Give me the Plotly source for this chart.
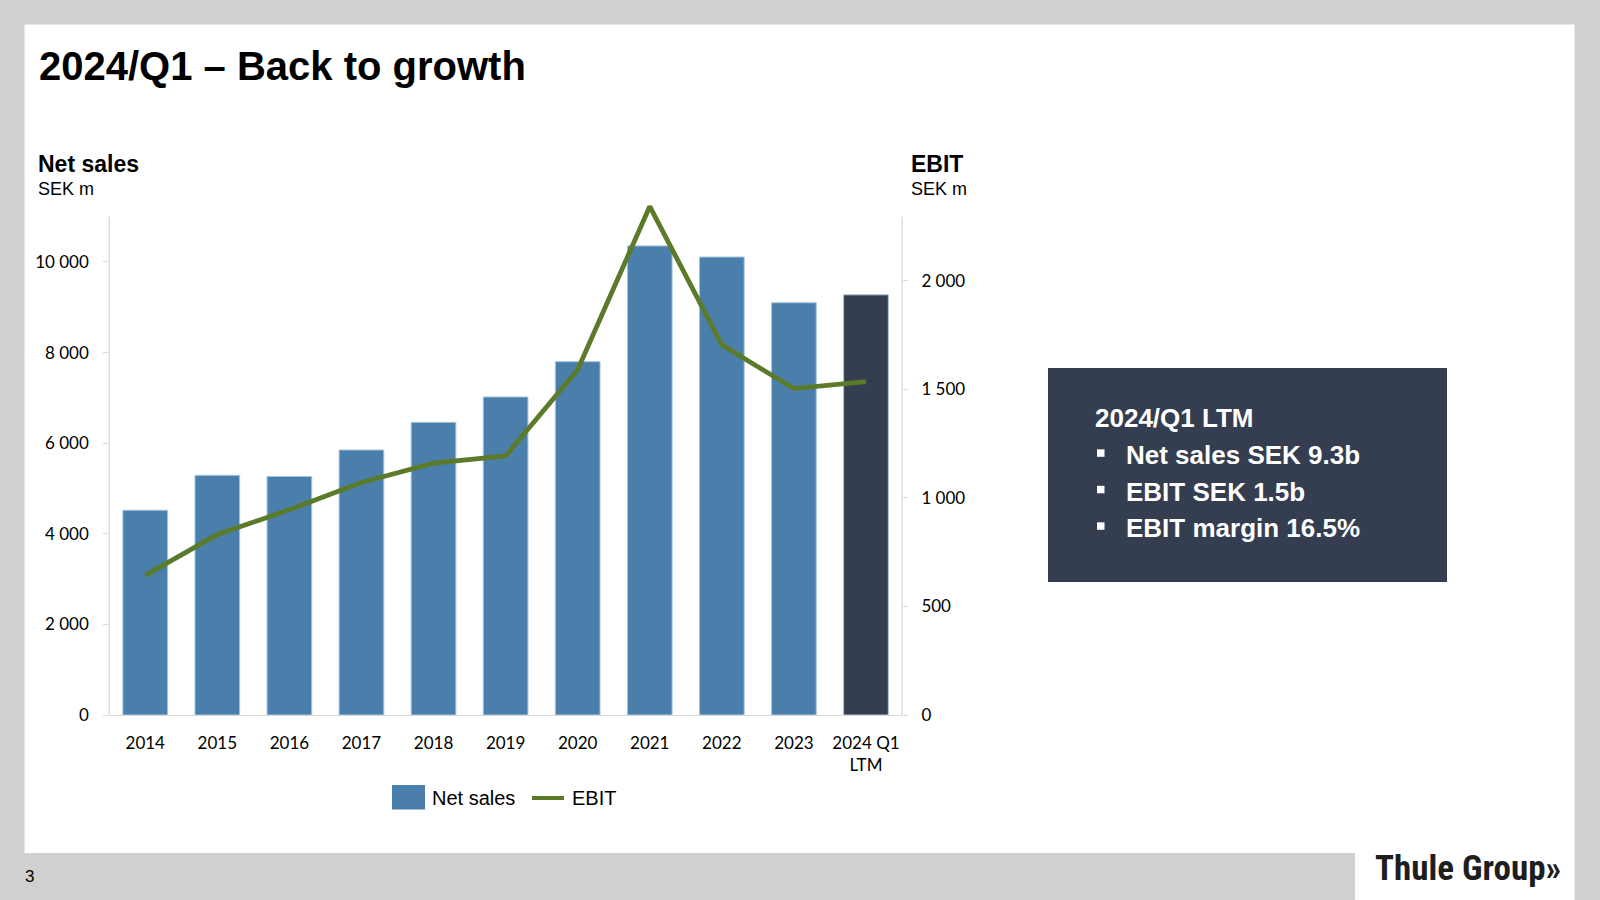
import plotly.graph_objects as go

# ---- data ----
categories = ["2014", "2015", "2016", "2017", "2018", "2019", "2020", "2021", "2022", "2023", "2024 Q1<br>LTM"]
net_sales = [4520, 5290, 5265, 5850, 6460, 7020, 7800, 10355, 10110, 9100, 9275]
ebit = [643, 831, 945, 1071, 1160, 1193, 1590, 2342, 1705, 1503, 1535]
left_ticks = [0, 2000, 4000, 6000, 8000, 10000]
right_ticks = [0, 500, 1000, 1500, 2000]

def fmt(v):
    return f"{v:,}".replace(",", " ")

W, H = 1600, 900
def px(x):
    return x / W
def py(y):
    return 1 - y / H

BLUE = "#4a7fab"
DARK = "#343e50"
GREEN = "#5b7b2a"
AXIS = "#d9d9d9"
GRAYBG = "#d0d0d0"
ARIAL = "Liberation Sans, Arial, sans-serif"
TICKF = "Lato, Carlito, Calibri, sans-serif"

bar_colors = [BLUE] * (len(categories) - 1) + [DARK]

fig = go.Figure()
fig.add_trace(go.Bar(
    x=categories, y=net_sales, name="Net sales",
    marker=dict(color=bar_colors, line=dict(color="#a9c4da", width=1)),
    yaxis="y", showlegend=False, hoverinfo="skip",
))
fig.add_trace(go.Scatter(
    x=categories, y=ebit, name="EBIT", mode="lines",
    line=dict(color=GREEN, width=4.8), yaxis="y2",
    showlegend=False, cliponaxis=False, hoverinfo="skip",
))

x0, x1 = 109.2, 902.0
y_zero, y_top = 715.0, 189.5
LMAX, RMAX = 11600, 2420

fig.update_layout(
    width=W, height=H, autosize=False,
    margin=dict(l=0, r=0, t=0, b=0, pad=0, autoexpand=False),
    paper_bgcolor=GRAYBG, plot_bgcolor="rgba(0,0,0,0)",
    bargap=0.38,
    xaxis=dict(
        domain=[px(x0), px(x1)], type="category", automargin=False,
        showline=True, linecolor=AXIS, linewidth=1.3,
        ticks="", showgrid=False, zeroline=False,
        tickfont=dict(family=TICKF, size=17, color="#000"),
        ticklabelstandoff=12,
    ),
    yaxis=dict(
        domain=[py(y_zero), py(y_top)], range=[0, LMAX], automargin=False,
        tickvals=left_ticks, ticktext=[fmt(v) for v in left_ticks],
        ticks="outside", ticklen=5, tickcolor=AXIS, tickwidth=1.3,
        showline=False, showgrid=False, zeroline=False,
        tickfont=dict(family=TICKF, size=17, color="#000"),
        ticklabelstandoff=11,
    ),
    yaxis2=dict(
        overlaying="y", side="right", range=[0, RMAX], automargin=False,
        tickvals=right_ticks, ticktext=[fmt(v) for v in right_ticks],
        ticks="outside", ticklen=5, tickcolor=AXIS, tickwidth=1.3,
        showline=False, showgrid=False, zeroline=False,
        tickfont=dict(family=TICKF, size=17, color="#000"),
        ticklabelstandoff=10,
    ),
)

info_lines_y = [455, 491.5, 528]

shapes = [
    # white slide panel
    dict(type="rect", xref="paper", yref="paper", x0=px(24.5), x1=px(1574.5), y0=py(853), y1=py(24.5),
         fillcolor="white", line=dict(width=0), layer="below"),
    # logo white box
    dict(type="rect", xref="paper", yref="paper", x0=px(1355), x1=px(1574.5), y0=py(900), y1=py(853),
         fillcolor="white", line=dict(width=0), layer="below"),
    # axis lines
    dict(type="line", xref="paper", yref="y", x0=px(x0), x1=px(x0), y0=0, y1=11000,
         line=dict(color=AXIS, width=1.3), layer="below"),
    dict(type="line", xref="paper", yref="y", x0=px(x1), x1=px(x1), y0=0, y1=11000,
         line=dict(color=AXIS, width=1.3), layer="below"),
    # info box
    dict(type="rect", xref="paper", yref="paper", x0=px(1048), x1=px(1447), y0=py(582), y1=py(368),
         fillcolor=DARK, line=dict(width=0), layer="below"),
    # legend symbols
    dict(type="rect", xref="paper", yref="paper", x0=px(392), x1=px(425), y0=py(809.5), y1=py(785),
         fillcolor=BLUE, line=dict(width=0)),
    dict(type="line", xref="paper", yref="paper", x0=px(532), x1=px(564), y0=py(798), y1=py(798),
         line=dict(color=GREEN, width=4)),
]
# square bullets of the info box
for yc in info_lines_y:
    shapes.append(dict(type="rect", xref="paper", yref="paper",
                       x0=px(1097), x1=px(1104.5), y0=py(yc + 1.8), y1=py(yc - 5.7),
                       fillcolor="white", line=dict(width=0)))

def ann(text, x, y, size, bold=False, color="#000", family=ARIAL, xanchor="left"):
    t = f"<b>{text}</b>" if bold else text
    return dict(text=t, x=px(x), y=py(y), xref="paper", yref="paper",
                xanchor=xanchor, yanchor="middle", showarrow=False,
                font=dict(family=family, size=size, color=color))

annotations = [
    ann("2024/Q1 – Back to growth", 37, 66, 40, bold=True),
    ann("Net sales", 36, 164, 23, bold=True),
    ann("SEK m", 36, 189, 18),
    ann("EBIT", 909, 164, 23, bold=True),
    ann("SEK m", 909, 189, 18),
    ann("2024/Q1 LTM", 1093, 418, 26, bold=True, color="white"),
    ann("Net sales SEK 9.3b", 1124, info_lines_y[0], 26, bold=True, color="white"),
    ann("EBIT SEK 1.5b", 1124, info_lines_y[1], 26, bold=True, color="white"),
    ann("EBIT margin 16.5%", 1124, info_lines_y[2], 26, bold=True, color="white"),
    ann("Net sales", 430, 798, 20),
    ann("EBIT", 570, 798, 20),
    ann("3", 23, 876, 17),
    ann("Thule Group»", 1373, 868, 35, bold=True, color="#1e1e1e",
        family="Liberation Sans Narrow, Arial Narrow, Roboto Condensed, Liberation Sans"),
]

fig.update_layout(shapes=shapes, annotations=annotations)

page_css = (
    "var st=document.createElement('style');"
    "st.textContent='html,body{margin:0!important;padding:0!important;overflow:hidden!important;"
    "background:" + GRAYBG + ";}';"
    "document.head.appendChild(st);"
)
fig.write_html(
    "out.html",
    config={"displayModeBar": False},
    post_script=page_css,
)
